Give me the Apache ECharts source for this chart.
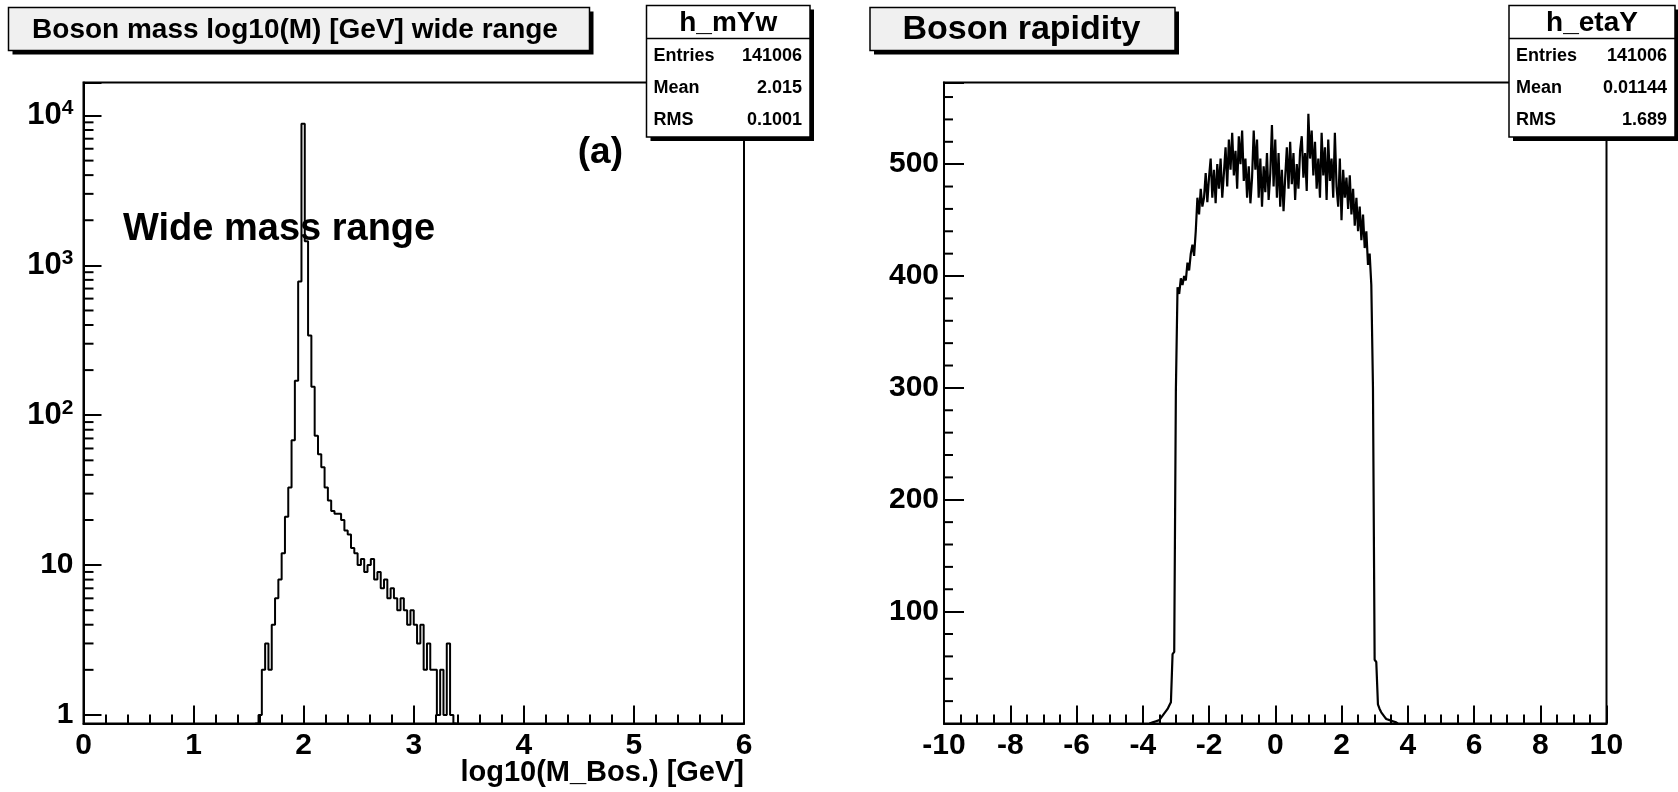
<!DOCTYPE html>
<html><head><meta charset="utf-8">
<script src="https://cdn.jsdelivr.net/npm/echarts@6/dist/echarts.min.js"></script>
<style>html,body{margin:0;padding:0;background:#fff}#c{width:1678px;height:792px}</style>
</head><body><div id="c"></div>
<script>
// ---------- data ----------
// Left: log10(M) histogram, bins of 0.03 starting at 1.56
const massBinStart = 1.56;
const massBinWidth = 0.03;
const massCounts = [
  0, 1, 2, 3, 2, 4, 6, 8, 12, 21,
  33, 68, 170, 780, 8800, 1450, 340, 155, 73, 55,
  45, 33, 27, 23, 22, 22, 20, 17, 16, 13,
  12, 10, 11, 9, 10, 11, 8, 9, 7, 8,
  6, 7, 6, 5, 6, 5, 4, 5, 4, 3,
  4, 2, 3, 2, 2, 1, 2, 1, 3, 1, 0
];
// Right: rapidity histogram, bins of 0.05 starting at -3.80
const rapBinStart = -3.80;
const rapBinWidth = 0.05;
const rapCounts = [
  1, 1, 1, 2, 2, 3, 4, 5, 7, 9,
  11, 13, 16, 19, 62, 64, 298, 390, 384, 398,
  392, 400, 396, 412, 405, 420, 428, 418, 440, 470,
  455, 478, 462, 470, 492, 466, 488, 505, 470, 495,
  465, 500, 478, 505, 470, 492, 515, 480, 522, 495,
  528, 490, 512, 478, 525, 500, 530, 485, 505, 470,
  498, 465, 488, 530, 495, 522, 470, 505, 462, 498,
  475, 510, 468, 492, 535, 480, 522, 470, 510, 462,
  495, 458, 488, 515, 478, 520, 482, 510, 468, 500,
  478, 512, 525, 488, 510, 476, 545, 505, 530, 490,
  520, 478, 505, 470, 528, 490, 515, 468, 522, 485,
  505, 470, 528, 480, 462, 505, 450, 495, 470, 488,
  460, 490, 455, 478, 445, 470, 440, 462, 432, 455,
  425, 440, 410, 420, 392, 300, 57, 55, 17, 13,
  10, 8, 6, 4, 3, 2, 2, 1, 1, 1
];
const massTitle = 'Boson mass log10(M) [GeV] wide range';
const rapTitle = 'Boson rapidity';
const massXName = 'log10(M_Bos.) [GeV]';
const massNote = 'Wide mass range';
const massTag = '(a)';
const massStatsName = 'h_mYw';
const rapStatsName = 'h_etaY';
const statLabels = ['Entries', 'Mean', 'RMS'];
const massStatValues = ['141006', '2.015', '0.1001'];
const rapStatValues = ['141006', '0.01144', '1.689'];
const massYMin = 0.877, massYMax = 16600;
const rapYMax = 573;
const logMinorMultipliers = [2, 3, 4, 5, 6, 7, 8, 9];
const logDecades = [1, 10, 100, 1000];
const rapMinorTicks = [];
for (let v = 20; v < rapYMax; v += 20) if (v % 100 !== 0) rapMinorTicks.push(v);

// ---------- helpers ----------
const FONT = 'Liberation Sans';
function stepPoints(start, w, counts, floor) {
  const pts = [[start, floor]];
  counts.forEach((c, i) => {
    const lo = +(start + i * w).toFixed(5), hi = +(start + (i + 1) * w).toFixed(5);
    const v = c > 0 ? c : floor;
    pts.push([lo, v], [hi, v]);
  });
  pts.push([+(start + counts.length * w).toFixed(5), floor]);
  return pts;
}
const massPts = stepPoints(massBinStart, massBinWidth, massCounts, massYMin);
const rapPts = stepPoints(rapBinStart, rapBinWidth, rapCounts, 0);
const logMinor = [];
logDecades.forEach(d => logMinorMultipliers.forEach(m => logMinor.push([0, m * d])));

function tickSeries(xi, yi, data, len) {
  return {
    type: 'custom', xAxisIndex: xi, yAxisIndex: yi, data: data, silent: true, z: 5,
    encode: {x: 0, y: 1},
    renderItem: function (params, api) {
      const p = api.coord([api.value(0), api.value(1)]);
      return {type: 'line', shape: {x1: p[0], y1: p[1], x2: p[0] + len, y2: p[1]},
        style: {stroke: '#000', lineWidth: 2}};
    }
  };
}
const lbl = {color: '#000', fontFamily: FONT, fontWeight: 'bold', fontSize: 30};
const axLine = {show: true, onZero: false, lineStyle: {color: '#000', width: 2}};

function box(x, y, w, h, fill) {
  return [
    {type: 'rect', z: 100, shape: {x: x + 4, y: y + 4, width: w, height: h}, style: {fill: '#000'}},
    {type: 'rect', z: 101, shape: {x: x, y: y, width: w, height: h}, style: {fill: fill, stroke: '#000', lineWidth: 1.5}}
  ];
}
function txt(x, y, text, size, align) {
  return {type: 'text', z: 103, x: x, y: y, style: {text: text, font: 'bold ' + size + 'px "' + FONT + '"', fill: '#000', align: align, verticalAlign: 'middle'}};
}
function statBox(x, y, w, h, name, labels, values) {
  const els = box(x, y, w, h, '#fff');
  els.push({type: 'line', z: 102, shape: {x1: x, y1: y + 33, x2: x + w, y2: y + 33}, style: {stroke: '#000', lineWidth: 1.5}});
  els.push(txt(x + w / 2, y + 18, name, 28, 'center'));
  labels.forEach((l, i) => {
    const cy = y + 50.5 + i * 32.1;
    els.push(txt(x + 7, cy, l, 18, 'left'));
    els.push(txt(x + w - 8, cy, values[i], 18, 'right'));
  });
  return els;
}

const graphics = [].concat(
  box(8.5, 7.5, 581, 43, '#f0f0f0'),
  [txt(295, 30, massTitle, 28, 'center')],
  box(870, 7.5, 305, 43, '#f0f0f0'),
  [txt(1021.5, 30, rapTitle, 34, 'center')],
  statBox(646.5, 5.5, 163.5, 131.5, massStatsName, statLabels, massStatValues),
  statBox(1509, 5.5, 166, 131.5, rapStatsName, statLabels, rapStatValues),
  [txt(123, 230, massNote, 38, 'left'),
   txt(623, 153, massTag, 37, 'right'),
   txt(744, 773, massXName, 29, 'right')]
);

const chart = echarts.init(document.getElementById('c'), null, {renderer: 'canvas'});
chart.setOption({
  animation: false,
  backgroundColor: '#fff',
  grid: [
    {left: 83.5, top: 82.5, width: 660.5, height: 641, show: true, borderColor: '#000', borderWidth: 2, backgroundColor: 'transparent'},
    {left: 944, top: 82.5, width: 662.5, height: 641, show: true, borderColor: '#000', borderWidth: 2, backgroundColor: 'transparent'}
  ],
  xAxis: [
    {type: 'value', gridIndex: 0, min: 0, max: 6, interval: 1,
     axisLine: axLine, splitLine: {show: false},
     axisTick: {inside: true, length: 18, lineStyle: {color: '#000', width: 2}},
     minorTick: {show: true, splitNumber: 5, length: 9, lineStyle: {color: '#000', width: 2}},
     axisLabel: Object.assign({margin: 7}, lbl)},
    {type: 'value', gridIndex: 1, min: -10, max: 10, interval: 2,
     axisLine: axLine, splitLine: {show: false},
     axisTick: {inside: true, length: 18, lineStyle: {color: '#000', width: 2}},
     minorTick: {show: true, splitNumber: 4, length: 9, lineStyle: {color: '#000', width: 2}},
     axisLabel: Object.assign({margin: 7}, lbl)}
  ],
  yAxis: [
    {type: 'log', logBase: 10, gridIndex: 0, min: massYMin, max: massYMax,
     axisLine: axLine, splitLine: {show: false}, minorTick: {show: false},
     axisTick: {inside: true, length: 18, lineStyle: {color: '#000', width: 2}},
     axisLabel: Object.assign({margin: 10,
       formatter: function (v) {
         const e = Math.log10(v), r = Math.round(e);
         if (Math.abs(e - r) > 1e-6) return '';
         if (r === 0) return '1';
         if (r === 1) return '10';
         return '{b|10}{s|' + r + '}';
       },
       rich: {
         b: {fontSize: 31, fontWeight: 'bold', fontFamily: FONT, color: '#000', lineHeight: 36, verticalAlign: 'middle'},
         s: {fontSize: 21, fontWeight: 'bold', fontFamily: FONT, color: '#000', lineHeight: 36, verticalAlign: 'top'}
       }}, lbl)},
    {type: 'value', gridIndex: 1, min: 0, max: rapYMax, interval: 100,
     axisLine: axLine, splitLine: {show: false}, minorTick: {show: false},
     axisTick: {inside: true, length: 20, lineStyle: {color: '#000', width: 2}},
     axisLabel: Object.assign({margin: 5,
       formatter: function (v) { return (v > 0 && v % 100 === 0) ? String(v) : ''; }}, lbl)}
  ],
  series: [
    {type: 'line', xAxisIndex: 0, yAxisIndex: 0, data: massPts, showSymbol: false, symbol: 'none',
     lineStyle: {color: '#000', width: 2}, z: 3},
    {type: 'line', xAxisIndex: 1, yAxisIndex: 1, data: rapPts, showSymbol: false, symbol: 'none',
     lineStyle: {color: '#000', width: 2.2}, z: 3},
    tickSeries(0, 0, logMinor, 10),
    tickSeries(1, 1, rapMinorTicks.map(v => [-10, v]), 9)
  ],
  graphic: {elements: graphics}
});
</script></body></html>
